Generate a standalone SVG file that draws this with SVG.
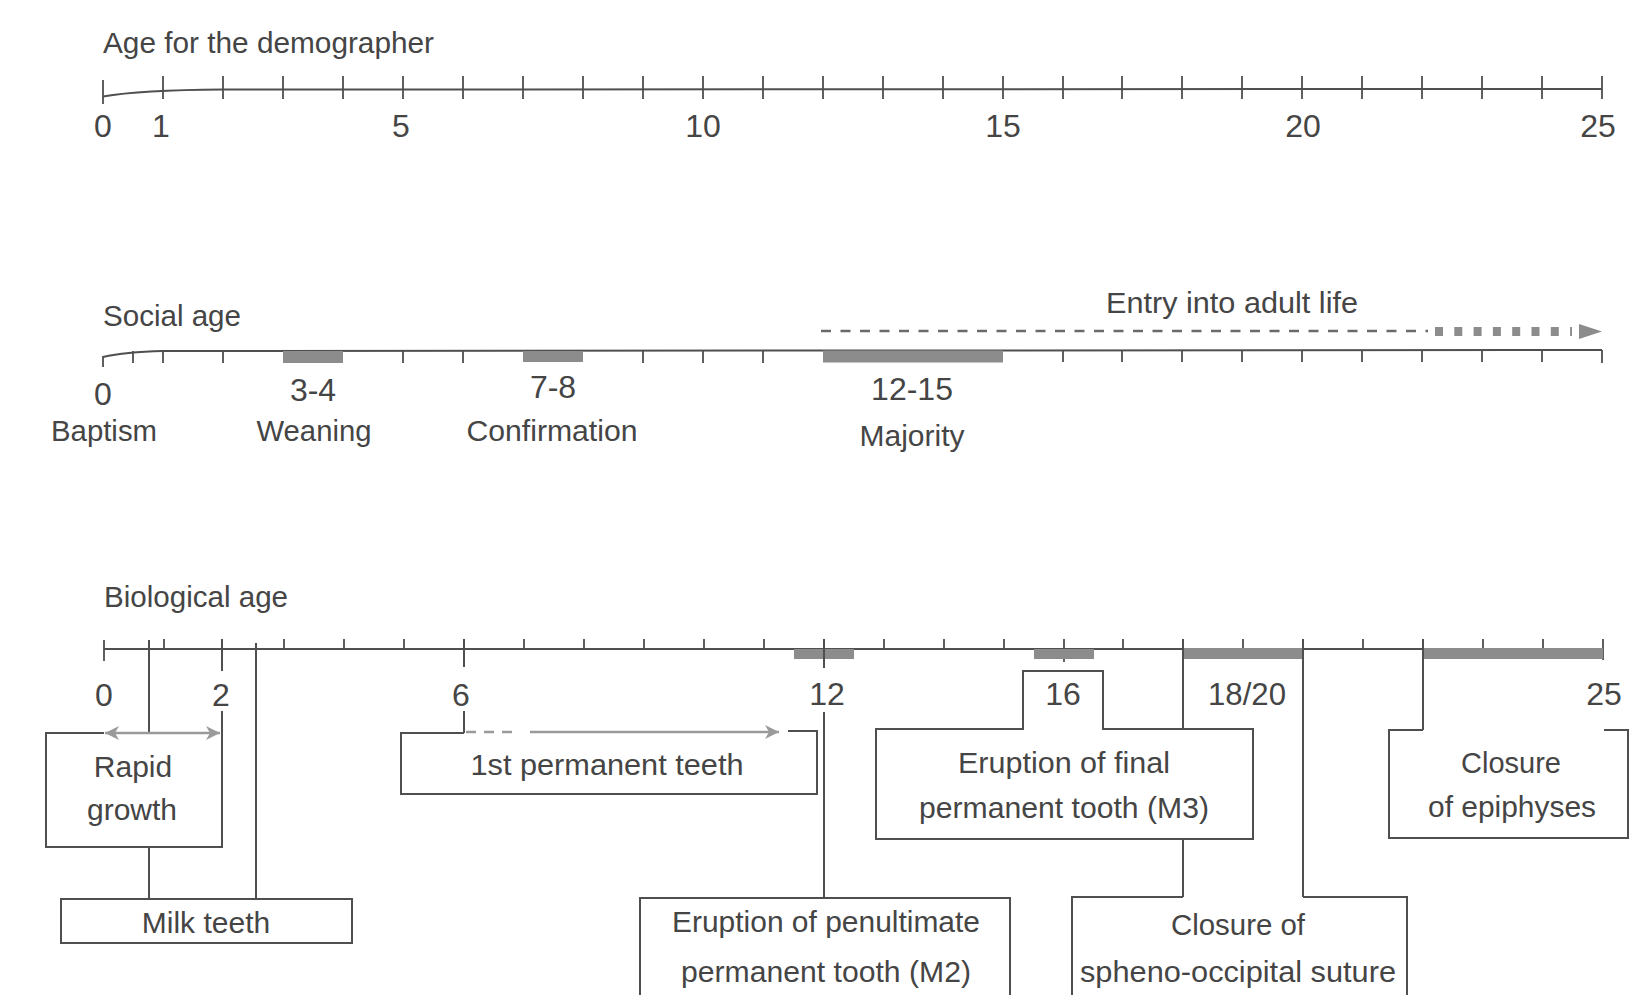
<svg xmlns="http://www.w3.org/2000/svg" width="1629" height="995" viewBox="0 0 1629 995">
<defs>
<style>
.ln{stroke:#4f4f4f;stroke-width:2;fill:none}
.tk{stroke:#4f4f4f;stroke-width:1.8;fill:none}
.bar{fill:#8c8c8c}
text{font-family:"Liberation Sans",Arial,Helvetica,sans-serif;fill:#454545;font-size:30px}
.num{font-size:32px;text-anchor:middle}
.c{text-anchor:middle}
.ga{stroke:#9a9a9a;stroke-width:2.5;fill:none}
.gd{stroke:#9a9a9a;stroke-width:2.5;fill:none;stroke-dasharray:10 8}
</style>
<marker id="ah" viewBox="0 0 14 14" refX="14" refY="7" markerWidth="14" markerHeight="14" markerUnits="userSpaceOnUse" orient="auto-start-reverse">
<path d="M0,0 L14,7 L0,14 L4,7 Z" fill="#9a9a9a"/>
</marker>
</defs>
<rect width="1629" height="995" fill="#ffffff"/>

<g id="demographer-axis">
<text x="103" y="53" textLength="331" lengthAdjust="spacingAndGlyphs">Age for the demographer</text>
<path class="ln" d="M103,96.5 Q140,90 223,89.5 L1602,89"/>
<path class="tk" d="M103,80V104M163,76V99M223,76V99M283,76V99M343,76V99M403,76V99M463,76V99M523,76V99M583,76V99M643,76V99M703,76V99M763,76V99M823,76V99M883,76V99M943,76V99M1003,76V99M1063,76V99M1122,76V99M1182,76V99M1242,76V99M1302,76V99M1362,76V99M1422,76V99M1482,76V99M1542,76V99M1602,76V99"/>
<text class="num" x="103" y="137">0</text>
<text class="num" x="161" y="137">1</text>
<text class="num" x="401" y="137">5</text>
<text class="num" x="703" y="137">10</text>
<text class="num" x="1003" y="137">15</text>
<text class="num" x="1303" y="137">20</text>
<text class="num" x="1598" y="137">25</text>
</g>

<g id="social-axis">
<text x="103" y="326" textLength="138" lengthAdjust="spacingAndGlyphs">Social age</text>
<path class="ln" d="M103,357 Q125,352 163,351 L1602,350"/>
<path class="tk" d="M103,356V367M133,351V363M163,351V363M223,351V363M403,351V363M463,351V363M643,351V363M703,351V363M763,351V363M1063,350V362M1122,350V362M1182,350V362M1242,350V362M1302,350V362M1362,350V362M1422,350V362M1482,350V362M1542,350V362M1602,350V363"/>
<rect class="bar" x="283" y="351" width="60" height="12"/>
<rect class="bar" x="523" y="351" width="60" height="11"/>
<rect class="bar" x="823" y="350.5" width="180" height="12"/>
</g>

<g id="social-baptism">
<text class="num" x="103" y="405">0</text>
<text class="c" x="104" y="441" textLength="106" lengthAdjust="spacingAndGlyphs">Baptism</text>
</g>
<g id="social-weaning">
<text class="num" x="313" y="401">3-4</text>
<text class="c" x="314" y="441" textLength="115" lengthAdjust="spacingAndGlyphs">Weaning</text>
</g>
<g id="social-confirmation">
<text class="num" x="553" y="398">7-8</text>
<text class="c" x="552" y="441" textLength="171" lengthAdjust="spacingAndGlyphs">Confirmation</text>
</g>
<g id="social-majority">
<text class="num" x="912" y="400">12-15</text>
<text class="c" x="912" y="446" textLength="105" lengthAdjust="spacingAndGlyphs">Majority</text>
</g>
<g id="social-adult">
<text x="1106" y="313" textLength="252" lengthAdjust="spacingAndGlyphs">Entry into adult life</text>
</g>

<g id="biological-axis">
<text x="104" y="607" textLength="184" lengthAdjust="spacingAndGlyphs">Biological age</text>
<path class="ln" d="M104,649 H1603"/>
<path class="tk" d="M104,640V661M164,639V649M284,639V649M344,639V649M404,639V649M524,639V649M584,639V649M644,639V649M704,639V649M764,639V649M884,639V649M944,639V649M1004,639V649M1123,639V649M1243,639V649M1363,639V649M1483,639V649M1543,639V649M1603,639V660M1064,639V662"/>
<rect class="bar" x="794" y="649" width="60" height="10"/>
<rect class="bar" x="1034" y="649" width="60" height="10"/>
<rect class="bar" x="1183" y="648" width="120" height="11"/>
<rect class="bar" x="1423" y="648" width="180" height="11"/>
<text class="num" x="104" y="706">0</text>
<text class="num" x="221" y="706">2</text>
<text class="num" x="461" y="706">6</text>
<text class="num" x="827" y="705">12</text>
<text class="num" x="1063" y="705">16</text>
<text class="num" x="1247" y="705" textLength="78" lengthAdjust="spacingAndGlyphs">18/20</text>
<text class="num" x="1604" y="705">25</text>
</g>

<g id="rapid-growth">
<path class="ln" d="M104,733 H46 V847 H222 V711"/>
<text class="c" x="133" y="777">Rapid</text>
<text class="c" x="132" y="820">growth</text>
</g>

<g id="milk-teeth">
<rect class="ln" x="61" y="899" width="291" height="44"/>
<text class="c" x="206" y="933">Milk teeth</text>
</g>

<g id="first-permanent-teeth">
<path class="ln" d="M464,733 H401 V794 H817 V731 H788"/>
<text class="c" x="607" y="775" textLength="273" lengthAdjust="spacingAndGlyphs">1st permanent teeth</text>
</g>

<g id="m2-eruption">
<path class="ln" d="M640,996 V898 H1010 V996"/>
<text class="c" x="826" y="932" textLength="308" lengthAdjust="spacingAndGlyphs">Eruption of penultimate</text>
<text class="c" x="826" y="982" textLength="290" lengthAdjust="spacingAndGlyphs">permanent tooth (M2)</text>
</g>

<g id="m3-eruption">
<path class="ln" d="M876,729 H1023 V671 H1103 V729 H1253 V839 H876 Z"/>
<text class="c" x="1064" y="773" textLength="212" lengthAdjust="spacingAndGlyphs">Eruption of final</text>
<text class="c" x="1064" y="818" textLength="290" lengthAdjust="spacingAndGlyphs">permanent tooth (M3)</text>
</g>

<g id="spheno-occipital">
<path class="ln" d="M1183,897 H1072 V996 M1303,897 H1407 V996"/>
<text class="c" x="1238" y="935" textLength="134" lengthAdjust="spacingAndGlyphs">Closure of</text>
<text class="c" x="1238" y="982" textLength="316" lengthAdjust="spacingAndGlyphs">spheno-occipital suture</text>
</g>

<g id="epiphyses">
<path class="ln" d="M1423,730 H1389 V838 H1628 V730 H1604"/>
<text class="c" x="1511" y="773" textLength="100" lengthAdjust="spacingAndGlyphs">Closure</text>
<text class="c" x="1512" y="817" textLength="168" lengthAdjust="spacingAndGlyphs">of epiphyses</text>
</g>

<g id="connectors">
<path d="M821,331 H1428" style="stroke:#6a6a6a;stroke-width:2.5;stroke-dasharray:10 9.5;fill:none"/>
<path d="M1435,331.5 H1572" style="stroke:#8c8c8c;stroke-width:9;stroke-dasharray:8 11.3;fill:none"/>
<polygon points="1579,324 1602,331.5 1579,339" fill="#8c8c8c"/>
<path class="ln" d="M149,640 V733 M149,847 V899 M256,643 V899"/>
<path class="ln" d="M222,639 V671"/>
<line class="ga" x1="105" y1="733" x2="220" y2="733" marker-start="url(#ah)" marker-end="url(#ah)"/>
<path class="ln" d="M464,639 V667 M464,711 V733"/>
<path class="gd" d="M466,732 H516"/>
<line class="ga" x1="530" y1="732" x2="779" y2="732" marker-end="url(#ah)"/>
<path class="ln" d="M824,639 V668 M824,712 V898"/>
<path class="ln" d="M1183,639 V729 M1183,839 V897"/>
<path class="ln" d="M1303,639 V897"/>
<path class="ln" d="M1423,639 V730"/>
</g>
</svg>
